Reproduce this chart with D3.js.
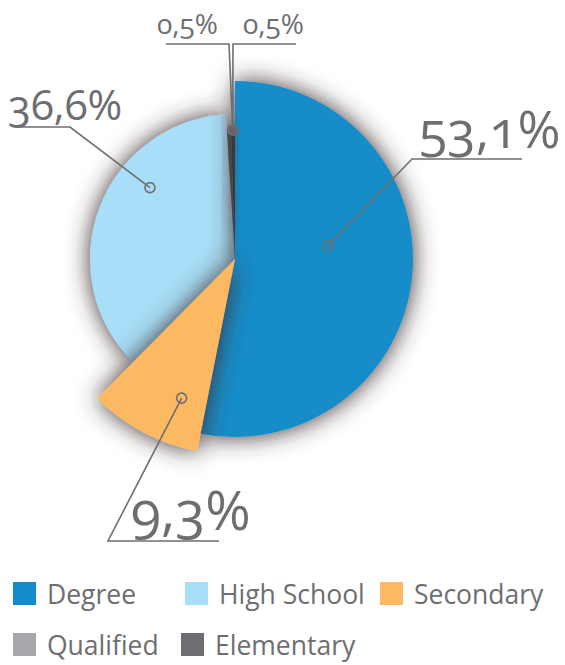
<!DOCTYPE html>
<html>
<head>
<meta charset="utf-8">
<script src="https://cdn.jsdelivr.net/npm/d3@7"></script>
<style>
  html, body { margin: 0; padding: 0; background: #fff; }
  svg { display: block; font-family: "Open Sans", "Noto Sans", sans-serif; }
</style>
</head>
<body>
<div id="chart"></div>
<script>
// education level share
const categories = ["Degree", "High School", "Secondary", "Qualified", "Elementary"]
const shares = [53.1, 36.6, 9.3, 0.5, 0.5]
const labels = ["53,1%", "36,6%", "9,3%", "0,5%", "0,5%"]
const pieOrder = ["Degree", "Secondary", "High School", "Qualified", "Elementary"]
const legendColors = ["#138dc9", "#a8def7", "#fdb962", "#a7a8ab", "#6d6e71"]
const sliceColors = ["#138dc9", "#a8def7", "#fdb962", "#4b4748", "#3b3738"]

const width = 565
const height = 665
const cx = 235, cy = 259
const grey = "#6d6e71"

// per slice layout: outer radius, marker (polar), label text + elbow
const layout = {
  "Degree":      { r: 178, mAng: 82,  mR: 94,  elbow: [412, 159], lineEnd: 522, tx: 419, ty: 148, fs: 52 },
  "High School": { r: 145, mAng: 310, mR: 111, elbow: [70, 127],  lineEnd: 15,  tx: 8,   ty: 120, fs: 42 },
  "Secondary":   { r: 196, mAng: 201, mR: 149, elbow: [108, 541], lineEnd: 219, tx: 131, ty: 530, fs: 55 },
  "Qualified":   { r: 130, mAng: 359, mR: 129, elbow: [229, 44],  lineEnd: 166, tx: 157, ty: 34,  fs: 28 },
  "Elementary":  { r: 130, mAng: 359, mR: 129, elbow: [233, 44],  lineEnd: 296, tx: 243, ty: 34,  fs: 28 }
}

const legendPos = {
  "Degree": [13, 582], "High School": [185, 582], "Secondary": [380, 582],
  "Qualified": [13, 633], "Elementary": [181, 633]
}

const color = d3.scaleOrdinal().domain(categories).range(sliceColors)
const legendColor = d3.scaleOrdinal().domain(categories).range(legendColors)

const data = categories.map((c, i) => ({ name: c, value: shares[i], label: labels[i] }))

const svg = d3.select("#chart").append("svg")
  .attr("width", width)
  .attr("height", height)

// soft shadow round each slice
const defs = svg.append("defs")
const f = defs.append("filter").attr("id", "shade")
  .attr("x", "-50%").attr("y", "-50%").attr("width", "200%").attr("height", "200%")
f.append("feGaussianBlur").attr("in", "SourceAlpha").attr("stdDeviation", 12).attr("result", "blur")
f.append("feFlood").attr("flood-color", "#3f3030").attr("flood-opacity", 1)
f.append("feComposite").attr("in2", "blur").attr("operator", "in").attr("result", "sh")
const fm = f.append("feMerge")
fm.append("feMergeNode").attr("in", "sh")
fm.append("feMergeNode").attr("in", "SourceGraphic")

const pie = d3.pie()
  .value(d => d.value)
  .sort((a, b) => pieOrder.indexOf(a.name) - pieOrder.indexOf(b.name))

const arcs = pie(data)
const arc = d3.arc().innerRadius(0).outerRadius(d => layout[d.data.name].r)

// draw order so the smaller slices cast shade on their neighbours
const drawOrder = ["High School", "Degree", "Qualified", "Elementary", "Secondary"]
const g = svg.append("g").attr("transform", `translate(${cx},${cy})`)
g.selectAll("path")
  .data(arcs.slice().sort((a, b) => drawOrder.indexOf(a.data.name) - drawOrder.indexOf(b.data.name)))
  .enter()
  .append("path")
  .attr("d", arc)
  .attr("fill", d => color(d.data.name))
  .attr("filter", "url(#shade)")

// leader lines + labels
function markerPos(name) {
  const L = layout[name]
  const a = L.mAng * Math.PI / 180
  return [cx + L.mR * Math.sin(a), cy - L.mR * Math.cos(a)]
}

const labelG = svg.append("g")
data.forEach(d => {
  const L = layout[d.name]
  const m = markerPos(d.name)
  labelG.append("polyline")
    .attr("points", [m, L.elbow, [L.lineEnd, L.elbow[1]]].map(p => p.join(",")).join(" "))
    .attr("fill", "none")
    .attr("stroke", grey)
    .attr("stroke-width", 1.6)
  labelG.append("text")
    .attr("x", L.tx)
    .attr("y", L.ty)
    .attr("font-size", L.fs)
    .attr("fill", grey)
    .style("font-variant-numeric", "oldstyle-nums")
    .text(d.label)
})

// markers drawn last so they sit on top of the lines
data.forEach(d => {
  const m = markerPos(d.name)
  const tiny = d.value < 1
  labelG.append("circle")
    .attr("cx", m[0]).attr("cy", m[1]).attr("r", 5)
    .attr("fill", tiny ? "#6a6668" : "none")
    .attr("fill-opacity", tiny ? 0.8 : 1)
    .attr("stroke", grey)
    .attr("stroke-width", 1.6)
})

// legend
const leg = svg.append("g")
  .selectAll("g")
  .data(categories)
  .enter()
  .append("g")
  .attr("transform", d => `translate(${legendPos[d][0]},${legendPos[d][1]})`)

leg.append("rect")
  .attr("width", 23).attr("height", 23)
  .attr("fill", d => legendColor(d))

leg.append("text")
  .attr("x", 34)
  .attr("y", 22)
  .attr("font-size", 26.5)
  .attr("fill", grey)
  .text(d => d)
</script>
</body>
</html>
